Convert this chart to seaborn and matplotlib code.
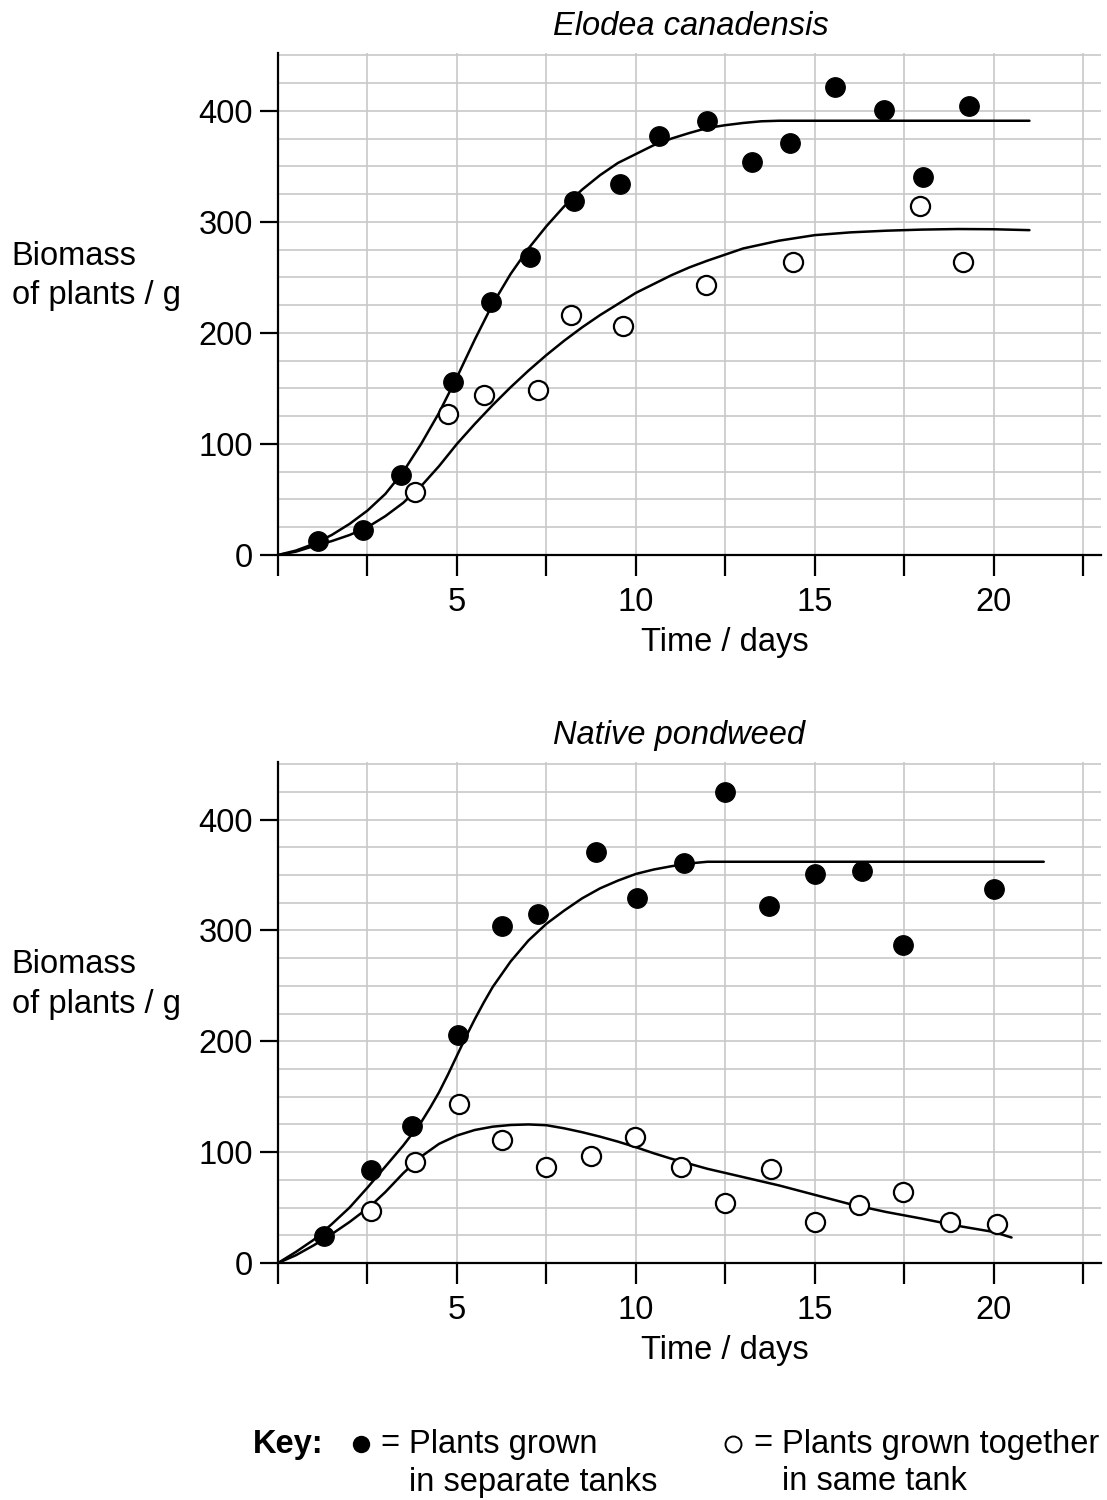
import numpy as np
import pandas as pd
import matplotlib
matplotlib.use("Agg")
import matplotlib.pyplot as plt
import seaborn as sns
from matplotlib.lines import Line2D

sns.set_style("white")
plt.rcParams['font.family'] = ['Liberation Sans', 'DejaVu Sans']
plt.rcParams['text.color'] = 'black'
plt.rcParams['axes.labelcolor'] = 'black'
plt.rcParams['xtick.color'] = 'black'
plt.rcParams['ytick.color'] = 'black'

# ---------------- data: Elodea canadensis ----------------
elo_sep_x = [1.12, 2.37, 3.44, 4.89, 5.95, 7.04, 8.27, 9.55, 10.64, 12.0, 13.24, 14.3, 15.56, 16.93, 18.02, 19.3]
elo_sep_y = [13, 22.5, 72, 156, 228, 268, 319, 334, 377, 391, 354, 371, 421, 401, 340, 404]
elo_tog_x = [3.83, 4.75, 5.75, 7.26, 8.18, 9.64, 11.96, 14.39, 17.93, 19.13]
elo_tog_y = [57, 127, 144, 149, 216, 206, 243, 264, 314, 264]

elo_sep_curve_x = [0, 0.5, 1, 1.5, 2, 2.5, 3, 3.5, 4, 4.5, 5, 5.5, 6, 6.5, 7, 7.5, 8, 8.5, 9, 9.5,
                   10, 10.5, 11, 11.5, 12, 12.5, 13, 13.5, 14, 21]
elo_sep_curve_y = [0, 4, 10, 18, 28, 40, 55, 75, 100, 128, 160, 194, 226, 253, 276, 296, 314, 329, 342, 353,
                   361, 369, 375, 380, 384.5, 387, 389, 390.5, 391, 391]
elo_tog_curve_x = [0, 0.5, 1, 1.5, 2, 2.5, 3, 3.5, 4, 4.5, 5, 5.5, 6, 6.5, 7, 7.5, 8, 8.5, 9, 9.5, 10, 10.5, 11,
                   11.5, 12, 13, 14, 15, 16, 17, 18, 19, 20, 21]
elo_tog_curve_y = [0, 3, 8, 12.5, 18, 25, 35, 47, 62, 80, 100, 118, 135, 151, 166, 180, 193, 205, 216, 226, 236, 244, 252,
                   259, 265, 276, 283, 288, 290.5, 292, 293, 293.5, 293.3, 292.5]

# ---------------- data: Native pondweed ----------------
pond_sep_x = [1.28, 2.59, 3.74, 5.04, 6.27, 7.27, 8.88, 10.04, 11.34, 12.5, 13.72, 15.02, 16.32, 17.48, 20.01]
pond_sep_y = [24, 84, 123.5, 205.5, 304, 314.5, 371, 329, 361, 425, 322, 351, 354, 287, 337]
pond_tog_x = [2.59, 3.82, 5.05, 6.26, 7.5, 8.74, 9.97, 11.25, 12.49, 13.78, 15.02, 16.24, 17.47, 18.78, 20.08]
pond_tog_y = [47, 91, 143, 111, 87, 96.5, 114, 87, 54.5, 84.5, 37, 52, 64.5, 37, 35]

pond_sep_curve_x = [0, 0.5, 1, 1.5, 2, 2.5, 3, 3.5, 4, 4.25, 4.5, 4.75, 5, 5.25, 5.5, 5.75, 6, 6.5, 7, 7.5, 8,
                    8.5, 9, 9.5, 10, 10.5, 11, 11.5, 12, 21.4]
pond_sep_curve_y = [0, 10, 21, 35, 50, 68, 87, 106, 127, 140, 154, 170, 187, 204, 220, 235, 249, 272, 291, 306, 318,
                    329, 338, 345, 351, 355, 358, 360.5, 362, 362]
pond_tog_curve_x = [0, 0.5, 1, 1.5, 2, 2.57, 3, 3.5, 4, 4.5, 5, 5.5, 6, 6.5, 7, 7.5, 8, 8.5, 9, 9.5,
                    10, 10.5, 11, 12, 13, 14, 15, 16, 17, 18, 19, 20, 20.5]
pond_tog_curve_y = [0, 7, 16, 26, 37, 51, 64, 81, 96, 107.5, 115, 120, 123, 124.5, 125, 124.3, 121.5, 118, 114, 109.5,
                    104.5, 99, 94, 85, 77.5, 70, 61.5, 53, 46, 40, 33.5, 28, 23]

panel_titles = ["Elodea canadensis", "Native pondweed"]
x_ticks = [0, 2.5, 5, 7.5, 10, 12.5, 15, 17.5, 20, 22.5]
x_ticklabels = ["", "", "5", "", "10", "", "15", "", "20", ""]
y_ticks = [0, 100, 200, 300, 400]
xlabel_text = "Time / days"
ylabel_text = "Biomass\nof plants / g"

FS = 23.5
W, H = 1107, 1500
fig = plt.figure(figsize=(W / 100, H / 100), dpi=100)

def px_axes(l, t, r, b):
    return fig.add_axes([l / W, 1 - b / H, (r - l) / W, (b - t) / H])

ax1 = px_axes(278, 53, 1101, 555)
ax2 = px_axes(278, 762, 1101, 1263)

panels = [
    (ax1, elo_sep_x, elo_sep_y, elo_tog_x, elo_tog_y,
     elo_sep_curve_x, elo_sep_curve_y, elo_tog_curve_x, elo_tog_curve_y),
    (ax2, pond_sep_x, pond_sep_y, pond_tog_x, pond_tog_y,
     pond_sep_curve_x, pond_sep_curve_y, pond_tog_curve_x, pond_tog_curve_y),
]
title_x = [(691 - 278) / 823, (679 - 278) / 823]

for i, (ax, sx, sy, tx, ty, scx, scy, tcx, tcy) in enumerate(panels):
    ax.set_xlim(0, 23)
    ax.set_ylim(0, 452)
    ax.set_xticks(x_ticks)
    ax.set_xticklabels(x_ticklabels, fontsize=FS)
    ax.set_yticks(y_ticks)
    ax.set_yticklabels([str(v) for v in y_ticks], fontsize=FS)
    ax.set_yticks(np.arange(0, 451, 25), minor=True)
    ax.tick_params(axis='x', which='major', direction='out', length=15, width=1.6,
                   color='black', pad=8, bottom=True)
    ax.tick_params(axis='y', which='major', direction='out', length=13, width=1.6,
                   color='black', pad=5, left=True)
    ax.tick_params(axis='y', which='minor', length=0)
    ax.grid(True, which='both', color='#c8c8c8', linewidth=1.2, zorder=0)
    ax.set_axisbelow(True)
    for s in ['top', 'right']:
        ax.spines[s].set_visible(False)
    for s in ['left', 'bottom']:
        ax.spines[s].set_color('black')
        ax.spines[s].set_linewidth(1.6)
        ax.spines[s].set_zorder(5)

    sns.lineplot(x=scx, y=scy, ax=ax, color='black', linewidth=1.8, sort=False,
                 estimator=None, zorder=3)
    sns.lineplot(x=tcx, y=tcy, ax=ax, color='black', linewidth=1.8, sort=False,
                 estimator=None, zorder=3)
    for ln in ax.get_lines():
        ln.set_solid_joinstyle('round')
    sns.scatterplot(x=sx, y=sy, ax=ax, s=200, color='black', edgecolor='black',
                    linewidth=0.8, zorder=4, clip_on=False)
    sns.scatterplot(x=tx, y=ty, ax=ax, s=190, color='white', edgecolor='black',
                    linewidth=1.6, zorder=4, clip_on=False)

    ax.set_title(panel_titles[i], fontsize=FS, style='italic', pad=13, color='black')
    ax.title.set_x(title_x[i])
    ax.set_xlabel(xlabel_text, fontsize=FS)
    ax.xaxis.set_label_coords(12.5 / 23, -0.143)
    ax.set_ylabel(ylabel_text, fontsize=FS, rotation=0, ha='left', va='center',
                  linespacing=1.35)
    ax.yaxis.set_label_coords(-0.3236, 0.556)

# ---------------- key ----------------
y1 = 1 - 1444 / H
y2 = 1 - 1482 / H
fig.text(253 / W, y1, "Key:", fontsize=FS, fontweight='bold', ha='left', va='center')
fig.add_artist(Line2D([361 / W], [y1], marker='o', markersize=11.5, color='black',
                      markerfacecolor='black', linestyle='none', transform=fig.transFigure))
fig.text(380 / W, y1, "=", fontsize=FS, ha='left', va='center')
fig.text(409 / W, y1, "Plants grown", fontsize=FS, ha='left', va='center')
fig.text(409 / W, y2, "in separate tanks", fontsize=FS, ha='left', va='center')
fig.add_artist(Line2D([733 / W], [y1], marker='o', markersize=11.5, color='black',
                      markerfacecolor='white', markeredgewidth=1.4, linestyle='none',
                      transform=fig.transFigure))
fig.text(753 / W, y1, "=", fontsize=FS, ha='left', va='center')
fig.text(782 / W, y1, "Plants grown together", fontsize=FS, ha='left', va='center')
fig.text(782 / W, y2, "in same tank", fontsize=FS, ha='left', va='center')

fig.savefig("out.png", dpi=100, facecolor='white')
